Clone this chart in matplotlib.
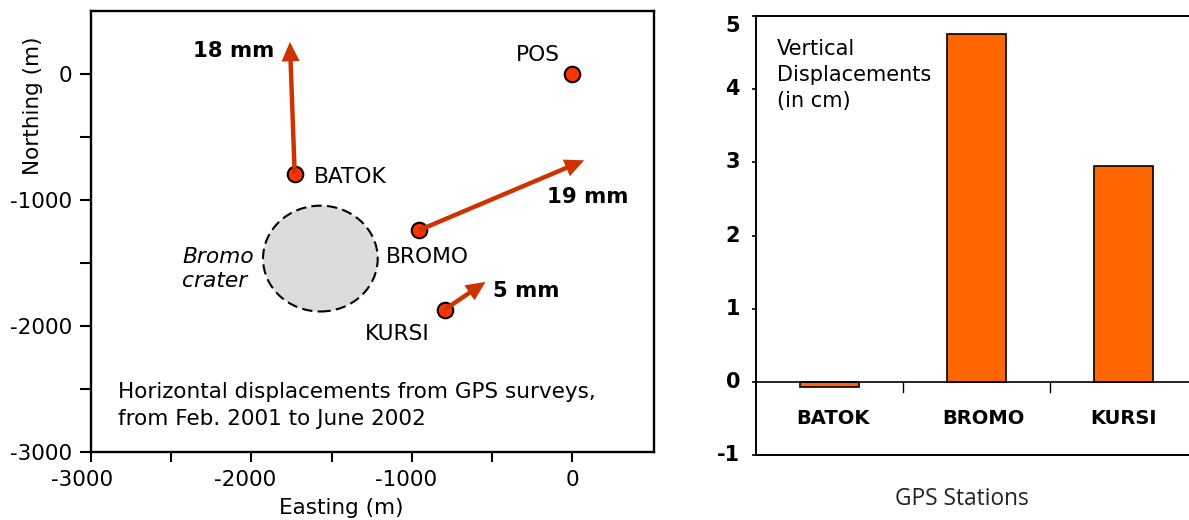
import numpy as np
import matplotlib
matplotlib.use("Agg")
import matplotlib.pyplot as plt
from matplotlib.patches import Ellipse
from matplotlib.transforms import ScaledTranslation

# horizontal displacements (m on map)
station_names = ["BATOK", "BROMO", "KURSI", "POS"]
station_x = [-1730, -955, -795, 0]
station_y = [-795, -1240, -1870, 0]
arrow_tip_x = [-1760, 75, -540]
arrow_tip_y = [255, -685, -1650]
arrow_labels = ["18 mm", "19 mm", "5 mm"]

crater_x = -1570
crater_y = -1465
crater_w = 715
crater_h = 840

# vertical displacements (cm)
bar_names = ["BATOK", "BROMO", "KURSI"]
bar_values = [-0.07, 4.76, 2.95]

W, H = 1189, 520
fig = plt.figure(figsize=(W / 100, H / 100), dpi=100)

def axes_px(left, top, right, bottom):
    return fig.add_axes([left / W, 1 - bottom / H, (right - left) / W, (bottom - top) / H])

def shift_label(label, dx, dy):
    # dx, dy in pixels
    label.set_transform(label.get_transform() + ScaledTranslation(dx / 100, dy / 100, fig.dpi_scale_trans))

# left panel, map
ax = axes_px(91, 11, 654, 452)
ax.set_xlim(-3000, 510)
ax.set_ylim(-3000, 500)
for s in ax.spines.values():
    s.set_linewidth(1.7)
ax.set_xticks(np.arange(-3000, 1, 500))
ax.set_xticklabels(["-3000", "", "-2000", "", "-1000", "", "0"])
ax.set_yticks(np.arange(-3000, 1, 500))
ax.set_yticklabels(["-3000", "", "-2000", "", "-1000", "", "0"])
ax.tick_params(axis="x", length=7, width=1.5, labelsize=15.5, pad=6)
ax.tick_params(axis="y", length=8, width=1.5, labelsize=15.5, pad=5.5)
for label, dx in zip(ax.get_xticklabels(), [-9, 0, -6, 0, -6, 0, 0]):
    shift_label(label, dx, 0)
ax.set_xlabel("Easting (m)", fontsize=15.5)
ax.xaxis.set_label_coords(0.445, -0.104)
ax.set_ylabel("Northing (m)", fontsize=15.5)
ax.yaxis.set_label_coords(-0.085, 0.785)

ax.add_patch(Ellipse((crater_x, crater_y), crater_w, crater_h, fc="#dcdcdc", ec="black",
                     lw=1.5, ls=(0, (5, 2.5))))

ax.scatter(station_x, station_y, s=125, c="#ff3300", edgecolors="black", linewidths=1.5, zorder=3)
for i in range(3):
    ax.annotate("", xy=(arrow_tip_x[i], arrow_tip_y[i]), xytext=(station_x[i], station_y[i]),
                arrowprops=dict(width=3.2, headwidth=13, headlength=14, facecolor="#cc3300",
                                edgecolor="none", shrink=0), zorder=4)

ax.text(-1610, -815, station_names[0], fontsize=15.7, va="center")
ax.text(-1160, -1450, station_names[1], fontsize=15.7, va="center")
ax.text(-1290, -2065, station_names[2], fontsize=15.7, va="center")
ax.text(-350, 150, station_names[3], fontsize=15.7, va="center")

ax.text(-2365, 185, arrow_labels[0], fontsize=15.3, fontweight="bold", va="center")
ax.text(-160, -975, arrow_labels[1], fontsize=15.3, fontweight="bold", va="center")
ax.text(-495, -1725, arrow_labels[2], fontsize=15.3, fontweight="bold", va="center")

ax.text(-2430, -1450, "Bromo", fontsize=15.7, style="italic", va="center")
ax.text(-2430, -1645, "crater", fontsize=15.7, style="italic", va="center")
ax.text(-2830, -2520, "Horizontal displacements from GPS surveys,", fontsize=15.5, va="center")
ax.text(-2830, -2740, "from Feb. 2001 to June 2002", fontsize=15.5, va="center")

# right panel, bars
ax2 = axes_px(756, 16, 1197, 455)
ax2.set_xlim(-0.5, 2.5)
ax2.set_ylim(-1, 5)
ax2.spines["right"].set_visible(False)
for s in ["left", "bottom", "top"]:
    ax2.spines[s].set_linewidth(1.4)
ax2.bar(range(3), bar_values, width=0.405, color="#ff6600", edgecolor="black", linewidth=1.2, zorder=3)
ax2.axhline(0, color="black", lw=1.2, zorder=4)
ax2.set_xticks([])
ax2.set_yticks(range(-1, 6))
ax2.set_yticklabels(["-1", "0", "1", "2", "3", "4", "5"], fontweight="bold")
ax2.tick_params(axis="y", length=3, width=1.2, labelsize=15, pad=8.5)
for label, dy in zip(ax2.get_yticklabels(), [2, 2, 2, 2, 2, 2, -8]):
    shift_label(label, 0, dy)
for v in [0.5, 1.5]:
    ax2.plot([v, v], [0, -0.14], color="black", lw=1.0, clip_on=False)
label_x = [0.02, 1.05, 2.0]
for i in range(3):
    ax2.text(label_x[i], -0.5, bar_names[i], fontsize=14, fontweight="bold", ha="center", va="center")

ax2.text(-0.36, 4.55, "Vertical", fontsize=15, va="center")
ax2.text(-0.36, 4.19, "Displacements", fontsize=15, va="center")
ax2.text(-0.36, 3.84, "(in cm)", fontsize=15, va="center")
fig.text(962 / W, 1 - 499 / H, "GPS Stations", fontsize=16.3, ha="center", va="center",
         family="Open Sans", color="#222222")

fig.savefig("out.png", dpi=100)
